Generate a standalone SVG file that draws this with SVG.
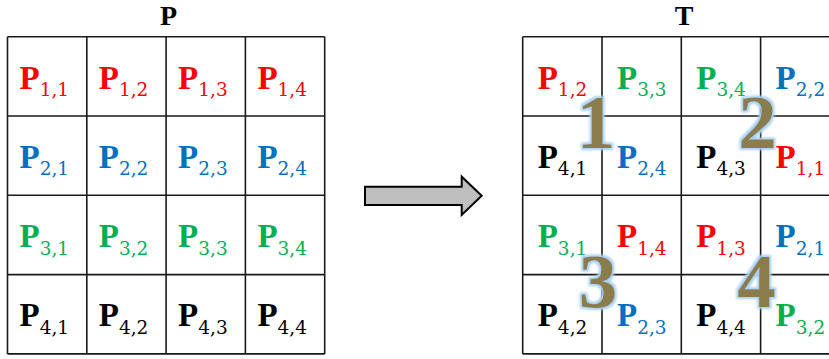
<svg xmlns="http://www.w3.org/2000/svg" width="829" height="359" viewBox="0 0 829 359">
  <style>
    .grid { fill: none; stroke: #1a1a1a; stroke-width: 1.6; }
    .title { font-family: "Liberation Serif", serif; font-weight: bold; font-size: 28px; text-anchor: middle; fill: #000; }
    .c { font-family: "Liberation Serif", serif; }
    .b { font-weight: bold; font-size: 33px; }
    .s { font-family: "DejaVu Serif", serif; font-size: 18.5px; font-weight: normal; }
    .red { fill: #ff0000; }
    .blue { fill: #0070c0; }
    .green { fill: #00b050; }
    .black { fill: #000000; }
    .num { font-family: "Liberation Serif", serif; font-weight: bold; font-size: 77px; text-anchor: middle; fill: #8a7d4c; filter: url(#glow); }
    .arrow { fill: #bfbfbf; stroke: #000; stroke-width: 2; stroke-linejoin: miter; }
  </style>
  <defs>
    <filter id="glow" x="-30%" y="-30%" width="160%" height="160%">
      <feMorphology in="SourceAlpha" operator="dilate" radius="2.2" result="d"/>
      <feGaussianBlur in="d" stdDeviation="1.2" result="bl"/>
      <feFlood flood-color="#a9d0f2" result="col"/>
      <feComposite in="col" in2="bl" operator="in" result="g"/>
      <feMerge>
        <feMergeNode in="g"/>
        <feMergeNode in="SourceGraphic"/>
      </feMerge>
    </filter>
  </defs>

  <rect width="829" height="359" fill="#ffffff"/>

  <!-- Grid P -->
  <g id="gridP">
    <text class="title" x="168.5" y="25">P</text>
    <path class="grid" d="M7.5 36.7H324.7M7.5 116H324.7M7.5 195.3H324.7M7.5 274.6H324.7M7.5 353.9H324.7M7.5 36.7V353.9M86.8 36.7V353.9M166.1 36.7V353.9M245.4 36.7V353.9M324.7 36.7V353.9"/>
    <g id="P11"><text class="c red" x="19.5" y="88.5"><tspan class="b">P</tspan><tspan class="s" dy="7.5">1,1</tspan></text></g>
    <g id="P12"><text class="c red" x="98.8" y="88.5"><tspan class="b">P</tspan><tspan class="s" dy="7.5">1,2</tspan></text></g>
    <g id="P13"><text class="c red" x="178.1" y="88.5"><tspan class="b">P</tspan><tspan class="s" dy="7.5">1,3</tspan></text></g>
    <g id="P14"><text class="c red" x="257.4" y="88.5"><tspan class="b">P</tspan><tspan class="s" dy="7.5">1,4</tspan></text></g>
    <g id="P21"><text class="c blue" x="19.5" y="167.8"><tspan class="b">P</tspan><tspan class="s" dy="7.5">2,1</tspan></text></g>
    <g id="P22"><text class="c blue" x="98.8" y="167.8"><tspan class="b">P</tspan><tspan class="s" dy="7.5">2,2</tspan></text></g>
    <g id="P23"><text class="c blue" x="178.1" y="167.8"><tspan class="b">P</tspan><tspan class="s" dy="7.5">2,3</tspan></text></g>
    <g id="P24"><text class="c blue" x="257.4" y="167.8"><tspan class="b">P</tspan><tspan class="s" dy="7.5">2,4</tspan></text></g>
    <g id="P31"><text class="c green" x="19.5" y="247"><tspan class="b">P</tspan><tspan class="s" dy="7.5">3,1</tspan></text></g>
    <g id="P32"><text class="c green" x="98.8" y="247"><tspan class="b">P</tspan><tspan class="s" dy="7.5">3,2</tspan></text></g>
    <g id="P33"><text class="c green" x="178.1" y="247"><tspan class="b">P</tspan><tspan class="s" dy="7.5">3,3</tspan></text></g>
    <g id="P34"><text class="c green" x="257.4" y="247"><tspan class="b">P</tspan><tspan class="s" dy="7.5">3,4</tspan></text></g>
    <g id="P41"><text class="c black" x="19.5" y="326.3"><tspan class="b">P</tspan><tspan class="s" dy="7.5">4,1</tspan></text></g>
    <g id="P42"><text class="c black" x="98.8" y="326.3"><tspan class="b">P</tspan><tspan class="s" dy="7.5">4,2</tspan></text></g>
    <g id="P43"><text class="c black" x="178.1" y="326.3"><tspan class="b">P</tspan><tspan class="s" dy="7.5">4,3</tspan></text></g>
    <g id="P44"><text class="c black" x="257.4" y="326.3"><tspan class="b">P</tspan><tspan class="s" dy="7.5">4,4</tspan></text></g>
  </g>

  <!-- Connector -->
  <g id="connectors">
    <polygon class="arrow" points="365,186.7 461.7,186.7 461.7,176.7 481.7,195.8 461.7,215 461.7,205 365,205"/>
  </g>

  <!-- Grid T -->
  <g id="gridT">
    <text class="title" x="684" y="25">T</text>
    <path class="grid" d="M522.7 36.7H840M522.7 116H840M522.7 195.3H840M522.7 274.6H840M522.7 353.9H840M522.7 36.7V353.9M602 36.7V353.9M681.3 36.7V353.9M760.6 36.7V353.9"/>
    <g id="T11"><text class="c red" x="537.7" y="88.5"><tspan class="b">P</tspan><tspan class="s" dy="7.5">1,2</tspan></text></g>
    <g id="T12"><text class="c green" x="617" y="88.5"><tspan class="b">P</tspan><tspan class="s" dy="7.5">3,3</tspan></text></g>
    <g id="T13"><text class="c green" x="696.3" y="88.5"><tspan class="b">P</tspan><tspan class="s" dy="7.5">3,4</tspan></text></g>
    <g id="T14"><text class="c blue" x="775.6" y="88.5"><tspan class="b">P</tspan><tspan class="s" dy="7.5">2,2</tspan></text></g>
    <g id="T21"><text class="c black" x="537.7" y="167.8"><tspan class="b">P</tspan><tspan class="s" dy="7.5">4,1</tspan></text></g>
    <g id="T22"><text class="c blue" x="617" y="167.8"><tspan class="b">P</tspan><tspan class="s" dy="7.5">2,4</tspan></text></g>
    <g id="T23"><text class="c black" x="696.3" y="167.8"><tspan class="b">P</tspan><tspan class="s" dy="7.5">4,3</tspan></text></g>
    <g id="T24"><text class="c red" x="775.6" y="167.8"><tspan class="b">P</tspan><tspan class="s" dy="7.5">1,1</tspan></text></g>
    <g id="T31"><text class="c green" x="537.7" y="247"><tspan class="b">P</tspan><tspan class="s" dy="7.5">3,1</tspan></text></g>
    <g id="T32"><text class="c red" x="617" y="247"><tspan class="b">P</tspan><tspan class="s" dy="7.5">1,4</tspan></text></g>
    <g id="T33"><text class="c red" x="696.3" y="247"><tspan class="b">P</tspan><tspan class="s" dy="7.5">1,3</tspan></text></g>
    <g id="T34"><text class="c blue" x="775.6" y="247"><tspan class="b">P</tspan><tspan class="s" dy="7.5">2,1</tspan></text></g>
    <g id="T41"><text class="c black" x="537.7" y="326.3"><tspan class="b">P</tspan><tspan class="s" dy="7.5">4,2</tspan></text></g>
    <g id="T42"><text class="c blue" x="617" y="326.3"><tspan class="b">P</tspan><tspan class="s" dy="7.5">2,3</tspan></text></g>
    <g id="T43"><text class="c black" x="696.3" y="326.3"><tspan class="b">P</tspan><tspan class="s" dy="7.5">4,4</tspan></text></g>
    <g id="T44"><text class="c green" x="775.6" y="326.3"><tspan class="b">P</tspan><tspan class="s" dy="7.5">3,2</tspan></text></g>
  </g>

  <!-- Block numbers -->
  <g id="labels">
    <text class="num" x="596" y="148">1</text>
    <text class="num" x="757.5" y="148">2</text>
    <text class="num" x="598" y="307">3</text>
    <text class="num" x="756.5" y="307">4</text>
  </g>
</svg>
